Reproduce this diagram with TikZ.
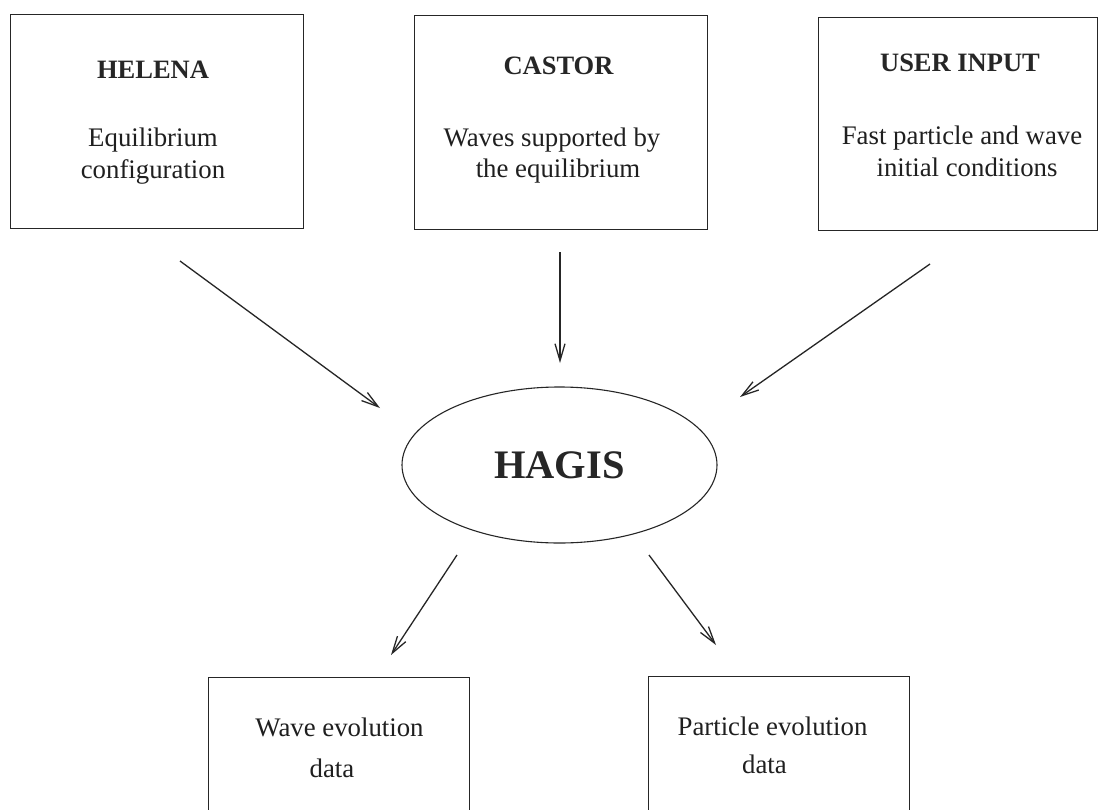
\documentclass[tikz,border=0pt]{standalone}
\usepackage{fontspec}
\setmainfont{Liberation Serif}
\usetikzlibrary{arrows.meta,shapes.geometric}
\begin{document}
\begin{tikzpicture}[x=1pt,y=-1pt,
  box/.style={draw=black!85, line width=1.4pt, rectangle, inner sep=0pt, anchor=north west},
  txt/.style={font=\fontsize{26.8}{32}\selectfont, inner sep=0pt, anchor=base, text=black!88},
  ttl/.style={font=\fontsize{26.5}{32}\selectfont\bfseries, inner sep=0pt, anchor=base, text=black!85},
  arr/.style={draw=black!85, line width=1.3pt, -{Straight Barb[length=17pt,width=10pt]}}]
\useasboundingbox (0,0) rectangle (1098,809);
\clip (0,0) rectangle (1098,809);
\fill[white] (0,0) rectangle (1098,809);

% top boxes
\node[box, minimum width=293pt, minimum height=214pt] (helena) at (10,14) {};
\node[box, minimum width=293pt, minimum height=214pt] (castor) at (414,15) {};
\node[box, minimum width=279pt, minimum height=213pt] (user) at (818,17) {};

\node[ttl] (helenaT) at (153,78) {HELENA};
\node[txt] (helenaA) at (153,146) {Equilibrium};
\node[txt] (helenaB) at (153,178) {configuration};

\node[ttl] (castorT) at (558.5,74) {CASTOR};
\node[txt] (castorA) at (552,146) {Waves supported by};
\node[txt] (castorB) at (558,177) {the equilibrium};

\node[ttl] (userT) at (960,71) {USER INPUT};
\node[txt] (userA) at (962,144) {Fast particle and wave};
\node[txt] (userB) at (967,176) {initial conditions};

% centre
\node[draw=black!85, line width=1.1pt, ellipse, minimum width=315pt, minimum height=156pt,
      inner sep=0pt, font=\fontsize{40.5}{44}\selectfont\bfseries, text=black!85] (hagis) at (559.5,465) {HAGIS};

% bottom boxes
\node[box, minimum width=261pt, minimum height=160pt] (wave) at (208,677) {};
\node[box, minimum width=261pt, minimum height=160pt] (part) at (648,676) {};
\node[txt] (waveA) at (339.5,736) {Wave evolution};
\node[txt] (waveB) at (332,777) {data};
\node[txt] (partA) at (772.5,735) {Particle evolution};
\node[txt] (partB) at (764.5,773) {data};

% connectors
\coordinate (a1s) at (180,261); \coordinate (a1e) at (380,408);
\coordinate (a2s) at (560,252); \coordinate (a2e) at (560,363);
\coordinate (a3s) at (930,264); \coordinate (a3e) at (740,397);
\coordinate (a4s) at (457,555); \coordinate (a4e) at (391,655);
\coordinate (a5s) at (649,555); \coordinate (a5e) at (716,645);
\draw[arr] (a1s) -- (a1e);
\draw[arr] (a2s) -- (a2e);
\draw[arr] (a3s) -- (a3e);
\draw[arr] (a4s) -- (a4e);
\draw[arr] (a5s) -- (a5e);
\end{tikzpicture}
\end{document}
